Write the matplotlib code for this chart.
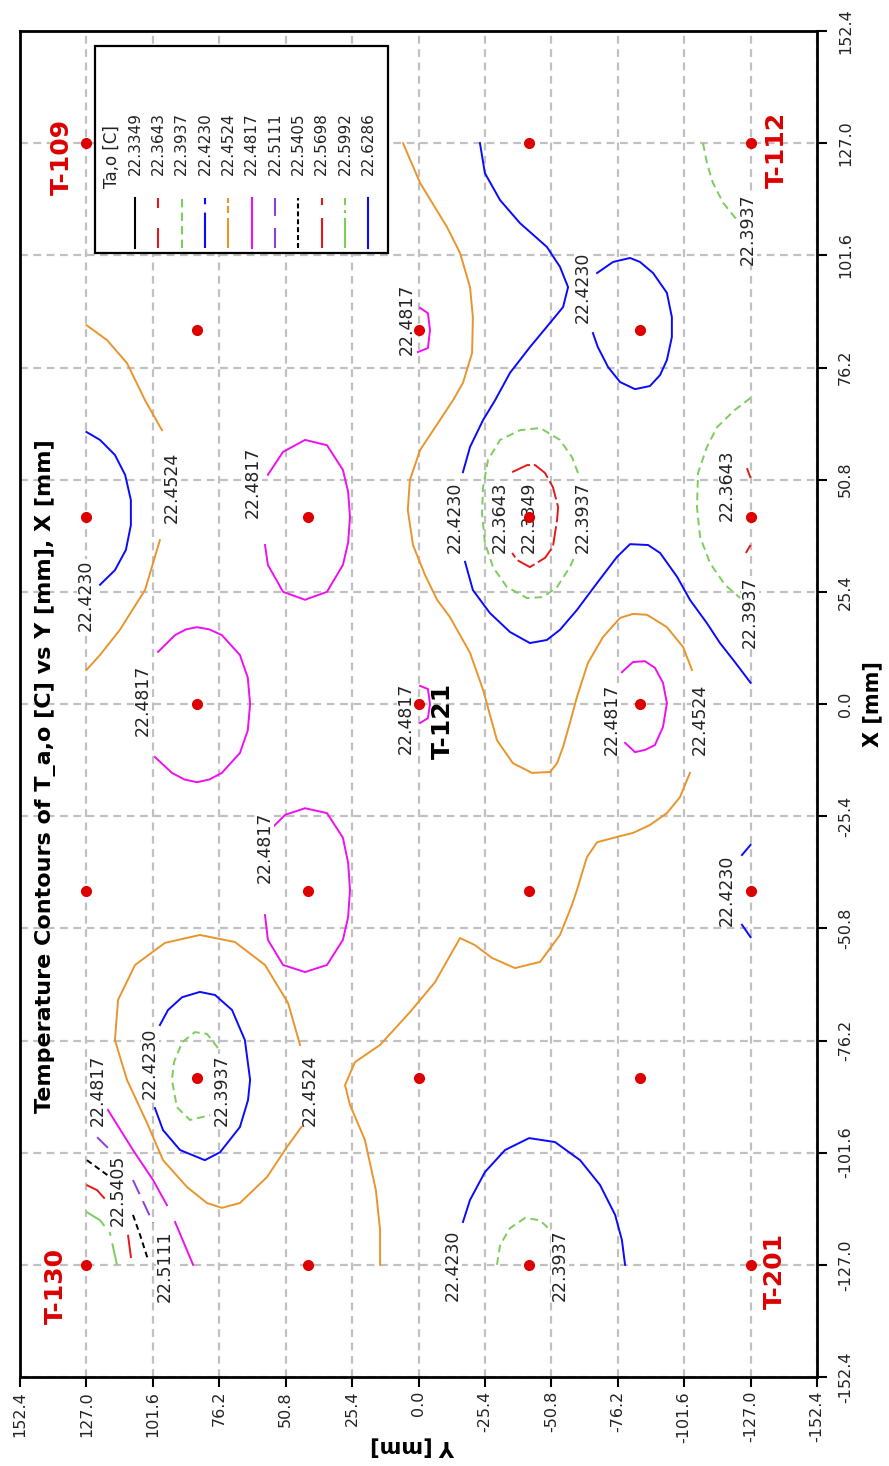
import matplotlib.pyplot as plt
from matplotlib.patches import Rectangle

# contour levels of T_a,o [C]
levels = ['22.3349', '22.3643', '22.3937', '22.4230', '22.4524', '22.4817',
          '22.5111', '22.5405', '22.5698', '22.5992', '22.6286']
level_colors = ['black', '#e41a1a', '#7ccd5c', '#0a0aff', '#e8952c', '#ee10ee',
                '#8c3fd6', 'black', '#e41a1a', '#7ccd5c', '#0a0aff']
level_styles = ['-', (0, (10, 2)), (0, (4, 2.5)), '-', '-', '-',
                (0, (8, 4)), (0, (3, 2)), (0, (12, 5, 3, 5)), (0, (12, 4, 2, 4)), '-']
legend_styles = ['-', (0, (9.6, 9.6)), (0, (4, 2.5)), (0, (17, 4)), (0, (14.4, 2.4, 3.4, 1.4)), '-',
                 (0, (9.6, 5.8)), (0, (2.4, 1.4)), (0, (14.4, 6.2, 3.4, 6.2)), (0, (14.4, 2.4, 1.4, 2.4)), '-']

# sensor locations (Y, X in mm)
sensor_y = [127, 42.33, -42.33, -127, 84.67, 0, -84.67,
            127, 42.33, -42.33, -127, 84.67, 0, -84.67,
            127, 42.33, -42.33, -127, 84.67, 0, -84.67,
            127, 42.33, -42.33, -127]
sensor_x = [127, 127, 127, 127, 84.67, 84.67, 84.67,
            42.33, 42.33, 42.33, 42.33, 0, 0, 0,
            -42.33, -42.33, -42.33, -42.33, -84.67, -84.67, -84.67,
            -127, -127, -127, -127]

tag_names = ['T-109', 'T-112', 'T-130', 'T-201', 'T-121']
tag_y = [136.3, -137.1, 138.6, -136.3, -9.4]
tag_x = [123.9, 125.5, -131.8, -128.4, -3.9]
tag_colors = ['#dd0000', '#dd0000', '#dd0000', '#dd0000', 'black']

# --- contour paths (Y mm, X mm) ---
# 22.3643 red
r1_y = [-35.8, -41.5, -44.6, -48.4, -51.4, -53.4, -53.0, -51.4, -48.4, -42.6, -37.7, -35.8]
r1_x = [52.5, 54.1, 54.1, 52.3, 49.1, 44.6, 41.7, 35.6, 33.1, 31.0, 32.6, 34.2]
r2_y = [-125.6, -127]
r2_x = [53.4, 51.2]
r3_y = [-125.2, -127]
r3_x = [34.2, 36.0]

# 22.3937 green
g1_y = [-61.0, -58.7, -54.1, -46.5, -38.8, -31.2, -26.6, -24.7, -24.3, -25.4, -28.5,
        -33.8, -41.5, -47.6, -53.0, -57.9, -59.9]
g1_x = [52.3, 55.9, 59.8, 62.5, 62.0, 59.8, 55.3, 49.1, 43.3, 36.5, 31.0,
        26.5, 24.0, 24.2, 26.5, 31.0, 33.7]
g2_y = [-127, -121.0, -114.2, -110.3, -106.9, -106.5, -107.7, -111.5, -117.2, -123.0]
g2_x = [69.3, 66.6, 62.7, 58.2, 52.3, 44.6, 37.8, 31.9, 27.0, 24.0]
g3_y = [-108.8, -110.3, -112.6, -116.5, -121.8]
g3_x = [127, 122.5, 118.0, 113.5, 109.6]
g4_y = [76.7, 80.9, 85.5, 90.4, 93.5, 94.3, 92.4, 87.4, 79.7]
g4_x = [-77.9, -74.7, -74.3, -76.6, -81.1, -85.1, -91.3, -94.2, -93.1]
g5_y = [-30.0, -31.2, -35.0, -40.7, -46.5, -50.3]
g5_x = [-127, -122.5, -118.7, -116.4, -116.9, -119.1]

# 22.4230 blue
b1_y = [127, 121.8, 116.1, 112.2, 110.0, 110.0, 111.9, 116.1, 121.8]
b1_x = [61.6, 59.8, 56.4, 51.9, 46.2, 40.5, 34.9, 30.3, 27.0]
b2_y = [100.8, 97.7, 91.2, 81.7, 75.9, 68.3, 65.2, 64.4, 66.4, 71.3, 77.8, 83.6, 90.4, 95.8, 98.9]
b2_x = [-91.5, -96.5, -101.0, -103.3, -101.5, -95.8, -89.7, -85.1, -76.1, -69.3, -65.9,
        -65.2, -66.4, -69.3, -72.7]
b3_y = [-23.5, -25.4, -31.2, -38.8, -49.1, -54.1, -57.2, -55.3, -50.3, -42.6, -35.0,
        -29.3, -24.7, -19.7, -17.0]
b3_x = [127, 120.2, 114.1, 108.9, 103.5, 99.0, 94.4, 89.9, 86.3, 80.8, 75.0,
        68.8, 64.3, 58.2, 52.5]
b4_y = [-17.8, -20.8, -27.3, -35.0, -42.6, -49.1, -54.1, -60.6, -68.3, -75.9, -80.9,
        -87.8, -92.4, -98.9, -103.8, -110.3, -115.3, -121.0, -127]
b4_x = [32.2, 25.8, 20.6, 16.3, 13.8, 14.5, 16.8, 21.3, 27.4, 33.3, 36.2,
        36.0, 34.2, 28.8, 23.6, 18.3, 13.8, 9.5, 4.8]
b5_y = [-68.3, -74.4, -80.9, -84.7, -89.7, -95.0, -96.9, -96.9, -95.0, -92.4, -88.5,
        -82.8, -77.1, -72.5, -68.6, -66.7]
b5_x = [97.6, 100.1, 101.0, 100.1, 97.6, 93.1, 87.6, 83.1, 77.9, 74.5, 72.0,
        71.3, 72.9, 76.3, 80.8, 84.0]
b6_y = [-127, -123.7]
b6_x = [-31.9, -34.2]
b7_y = [-123.7, -127]
b7_x = [-50.0, -52.8]
b8_y = [-17.0, -19.7, -25.4, -33.1, -42.3, -52.2, -61.8, -69.4, -75.2, -77.8, -79.0]
b8_x = [-117.3, -112.3, -106.0, -101.0, -98.3, -99.2, -103.3, -108.9, -115.7, -121.4, -127]

# 22.4524 orange
o1_y = [127, 119.1, 111.5, 104.6, 98.1]
o1_x = [85.8, 82.4, 77.2, 68.8, 62.0]
o2_y = [98.9, 104.6, 114.2, 121.8, 127]
o2_x = [37.1, 25.8, 16.8, 11.1, 7.7]
o3_y = [44.2, 50.3, 57.9, 68.3, 75.2, 80.9, 88.5, 97.7, 103.8, 111.5, 116.1, 114.9,
        108.4, 97.0, 83.6, 70.2, 58.7, 49.9, 45.3]
o3_x = [-95.3, -100.3, -107.1, -113.0, -114.1, -113.0, -109.4, -103.3, -94.9, -85.1,
        -76.1, -67.0, -59.1, -54.1, -52.3, -53.9, -59.1, -67.7, -77.2]
o4_y = [14.7, 14.7, 16.3, 20.5, 26.2, 28.1, 24.3, 14.7, 3.3, -6.3, -12.8, -15.9, -21.6,
        -28.1, -36.9, -46.5, -54.1, -58.7, -60.6, -64.4, -68.3, -75.9, -82.0, -88.5,
        -95.0, -100.0, -103.8]
o4_x = [-127, -119.1, -110.1, -98.7, -90.8, -86.3, -81.1, -77.2, -69.8, -63.0, -56.2,
        -53.0, -54.6, -57.5, -59.8, -58.4, -52.3, -45.5, -42.1, -34.7, -31.3, -30.1,
        -29.2, -27.4, -24.7, -21.1, -15.6]
o5_y = [-104.6, -101.2, -95.0, -87.4, -82.0, -77.1, -70.6, -64.8, -60.6, -57.9, -55.3,
        -53.0, -50.3, -43.4, -36.1, -30.0, -24.7, -19.7, -12.0, -7.1, -2.5, 2.1, 4.1,
        3.3, -0.6, -8.2, -13.2, -17.0, -20.5, -20.8, -19.7, -15.9, -10.9, -0.6, 5.9]
o5_x = [7.7, 12.9, 17.4, 20.2, 20.4, 19.5, 15.2, 9.3, 1.6, -4.3, -9.7, -13.4, -15.4,
        -15.6, -13.4, -8.2, 3.2, 11.6, 19.7, 23.6, 29.2, 36.0, 43.9, 50.7, 57.5, 64.3,
        68.8, 72.7, 79.5, 87.6, 94.4, 102.1, 108.0, 118.0, 127.0]

# 22.4817 magenta
m1_y = [57.6, 51.8, 43.4, 35.0, 28.9, 26.9, 26.2, 26.9, 28.9, 35.0, 43.4, 51.8, 57.6, 58.7]
m1_x = [51.9, 57.1, 59.8, 58.6, 53.0, 48.0, 42.3, 36.6, 31.5, 25.4, 23.6, 25.4, 31.5, 36.0]
m2_y = [99.6, 93.1, 88.9, 84.7, 80.0, 75.2, 68.3, 65.3, 64.4, 65.3, 68.3, 75.2, 80.0,
        84.7, 89.5, 94.3, 100.8]
m2_x = [11.8, 15.6, 16.9, 17.4, 16.9, 15.6, 11.1, 6.0, 0.0, -6.0, -11.1, -15.6, -17.1,
        -17.7, -17.1, -15.6, -12.0]
m3_y = [56.1, 51.0, 43.4, 35.0, 28.9, 26.9, 26.2, 26.9, 28.9, 35.0, 43.4, 51.8, 57.6, 58.7]
m3_x = [-28.1, -25.1, -23.6, -24.7, -30.3, -36.0, -42.1, -48.2, -53.4, -59.1, -60.7,
        -59.1, -53.4, -47.8]
m4_y = [-77.8, -82.0, -86.6, -90.4, -93.5, -95.0, -93.5, -90.4, -86.6, -82.8, -79.0]
m4_x = [7.2, 9.5, 9.7, 8.2, 4.8, 0.2, -5.2, -9.3, -10.4, -10.9, -8.8]
m5_y = [-0.6, -3.6, -4.4, -3.6, -0.6]
m5_x = [4.1, 3.4, 0.0, -3.2, -4.3]
m6_y = [-0.6, -3.6, -4.4, -3.6, 0.2]
m6_x = [89.7, 88.5, 84.7, 80.6, 79.7]
m7_y = [118.8, 109.2, 101.5, 96.2]
m7_x = [-91.9, -101.0, -107.8, -113.5]
m8_y = [93.1, 86.2]
m8_x = [-117.3, -127]

# 22.5111 purple, 22.5405 black, 22.5698 red, 22.5992 green
p1_y = [122.9, 118.8]
p1_x = [-98.1, -100.5]
p2_y = [109.2, 101.5]
p2_x = [-107.8, -117.5]
k1_y = [126.8, 118.0]
k1_x = [-103.3, -107.1]
k2_y = [109.2, 106.5, 103.4]
k2_x = [-115.7, -120.2, -125.9]
q1_y = [127, 122.9, 118.8]
q1_x = [-108.9, -110.1, -112.8]
q2_y = [111.1, 109.6]
q2_x = [-120.2, -127]
v1_y = [127, 121.8, 118.0, 115.3]
v1_x = [-115.0, -116.9, -119.8, -127]

segments = [
    ('22.3643', r1_y, r1_x), ('22.3643', r2_y, r2_x), ('22.3643', r3_y, r3_x),
    ('22.3937', g1_y, g1_x), ('22.3937', g2_y, g2_x), ('22.3937', g3_y, g3_x),
    ('22.3937', g4_y, g4_x), ('22.3937', g5_y, g5_x),
    ('22.4230', b1_y, b1_x), ('22.4230', b2_y, b2_x), ('22.4230', b3_y, b3_x),
    ('22.4230', b4_y, b4_x), ('22.4230', b5_y, b5_x), ('22.4230', b6_y, b6_x),
    ('22.4230', b7_y, b7_x), ('22.4230', b8_y, b8_x),
    ('22.4524', o1_y, o1_x), ('22.4524', o2_y, o2_x), ('22.4524', o3_y, o3_x),
    ('22.4524', o4_y, o4_x), ('22.4524', o5_y, o5_x),
    ('22.4817', m1_y, m1_x), ('22.4817', m2_y, m2_x), ('22.4817', m3_y, m3_x),
    ('22.4817', m4_y, m4_x), ('22.4817', m5_y, m5_x), ('22.4817', m6_y, m6_x),
    ('22.4817', m7_y, m7_x), ('22.4817', m8_y, m8_x),
    ('22.5111', p1_y, p1_x), ('22.5111', p2_y, p2_x),
    ('22.5405', k1_y, k1_x), ('22.5405', k2_y, k2_x),
    ('22.5698', q1_y, q1_x), ('22.5698', q2_y, q2_x),
    ('22.5992', v1_y, v1_x),
]

# inline contour labels
clabel_text = ['22.4524', '22.4230', '22.4817', '22.4817', '22.4817', '22.4817', '22.4817',
               '22.4817', '22.4817', '22.5405', '22.5111', '22.4230', '22.3937', '22.4524',
               '22.4230', '22.3643', '22.3349', '22.3937', '22.4230', '22.4524', '22.3643',
               '22.3937', '22.3937', '22.4230', '22.4230', '22.3937']
clabel_y = [94.3, 127.2, 63.3, 105.4, 58.7, 4.4, 4.8, -74.0, 122.6, 114.9, 97.0, 102.7,
            75.2, 41.5, -14.0, -31.2, -42.2, -62.9, -62.9, -107.7, -118.0, -126.8,
            -126.0, -118.0, -13.2, -54.1]
clabel_x = [49.1, 24.7, 50.3, 0.9, -32.4, 87.0, -3.2, -3.4, -87.4, -110.1, -127.3, -81.3,
            -87.4, -87.4, 42.3, 42.3, 42.3, 42.3, 94.4, -3.4, 49.6, 20.8, 107.6, -42.1,
            -127.0, -127.0]

fig = plt.figure(figsize=(8.89, 14.66), dpi=100)
ax = fig.add_axes([20 / 889, 1 - 1377 / 1466, 797 / 889, 1346 / 1466])
ax.set_xlim(152.4, -152.4)
ax.set_ylim(-152.4, 152.4)

ticks = [-152.4 + 25.4 * k for k in range(13)]
tick_text = ['%.1f' % (0.0 if abs(t) < 1e-6 else t) for t in ticks]
ax.set_xticks(ticks)
ax.set_yticks(ticks)
ax.set_xticklabels(tick_text, rotation=90)
ax.yaxis.tick_right()
ax.set_yticklabels(tick_text, rotation=90)
for lbl in ax.get_yticklabels():
    lbl.set_va('center')
ax.tick_params(axis='both', direction='out', length=7, width=1.5, labelsize=11.5,
               colors='black', labelcolor='#222222')
ax.tick_params(axis='x', pad=3)
ax.tick_params(axis='y', pad=8)
for sp in ax.spines.values():
    sp.set_linewidth(2.0)
ax.grid(True, color='#c0c0c0', linestyle=(0, (3.5, 2.5)), linewidth=1.6)
ax.set_axisbelow(True)

for lev, ys, xs in segments:
    i = levels.index(lev)
    ax.plot(ys, xs, color=level_colors[i], linestyle=level_styles[i], linewidth=1.4,
            zorder=3)

for t, y, x in zip(clabel_text, clabel_y, clabel_x):
    ax.text(y, x, t, rotation=90, ha='center', va='center', fontsize=12.5,
            color='#222222', zorder=4,
            bbox=dict(facecolor='white', edgecolor='none', pad=0.3))

ax.plot(sensor_y, sensor_x, 'o', color='#dd0000', markersize=7, zorder=5)

for name, y, x, c in zip(tag_names, tag_y, tag_x, tag_colors):
    ax.text(y, x, name, rotation=90, ha='center', va='center', fontsize=18,
            fontweight='bold', color=c, zorder=6)

ax.text(0.0314, 0.4465, 'Temperature Contours of T_a,o [C] vs Y [mm], X [mm]',
        transform=ax.transAxes, rotation=90, ha='center', va='center',
        fontsize=16, fontweight='bold', zorder=6)

# legend box (drawn by hand, rotated like the chart)
ax.add_patch(Rectangle((0.0941, 0.8351), 0.3676, 0.1538, transform=ax.transAxes,
                       facecolor='white', edgecolor='black', linewidth=1.6, zorder=10))
ax.text(0.1154, 0.8834, 'Ta,o [C]', transform=ax.transAxes, rotation=90, ha='center',
        va='bottom', fontsize=12, color='#222222', zorder=11)
for i, lev in enumerate(levels):
    lx = 0.1443 + 0.02927 * i
    ax.text(lx, 0.8930, lev, transform=ax.transAxes, rotation=90, ha='center',
            va='bottom', fontsize=11, color='#222222', zorder=11)
    ax.plot([lx, lx], [0.8388, 0.8759], transform=ax.transAxes, color=level_colors[i],
            linestyle=legend_styles[i], linewidth=1.5, zorder=11)

fig.text(872 / 889, 1 - 704 / 1466, 'X [mm]', rotation=90, ha='center', va='center',
         fontsize=15, fontweight='bold')
fig.text(413 / 889, 1 - 1447 / 1466, 'Y [mm]', rotation=180, ha='center', va='center',
         fontsize=15, fontweight='bold')

fig.savefig('out.png', dpi=100)
